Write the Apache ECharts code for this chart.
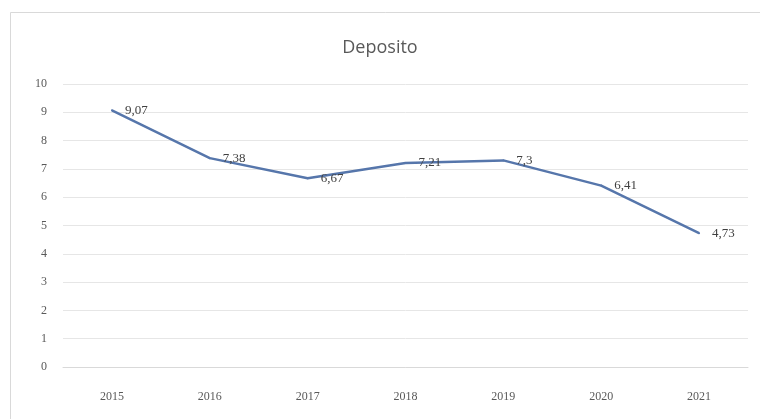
<!DOCTYPE html>
<html>
<head>
<meta charset="utf-8">
<script src="https://cdn.jsdelivr.net/npm/echarts@6/dist/echarts.min.js"></script>
<style>
html,body{margin:0;padding:0;background:#fff;}
#main{width:760px;height:419px;}
</style>
</head>
<body>
<div id="main"></div>
<script>
var years = ['2015','2016','2017','2018','2019','2020','2021'];
var deposito = [9.07, 7.38, 6.67, 7.21, 7.3, 6.41, 4.73];
var titleText = 'Deposito';

var myChart = echarts.init(document.getElementById('main'));
var option = {
	backgroundColor: '#fff',
	animation: false,
	title: {
		text: titleText,
		left: 'center',
		top: 34,
		textStyle: {color: '#595959', fontSize: 18, fontWeight: 'normal', fontFamily: 'Open Sans'}
	},
	graphic: [{
		type: 'rect',
		shape: {x: 10.5, y: 12.5, width: 760, height: 420},
		style: {fill: 'none', stroke: '#d9d9d9', lineWidth: 1}
	}],
	grid: {left: 63, right: 12, top: 84, bottom: 52},
	xAxis: {
		type: 'category',
		data: years,
		boundaryGap: true,
		axisLine: {lineStyle: {color: '#d9d9d9'}},
		axisTick: {show: false},
		axisLabel: {color: '#595959', fontSize: 12, fontFamily: 'Liberation Serif', margin: 24}
	},
	yAxis: {
		type: 'value',
		min: 0,
		max: 10,
		interval: 1,
		axisLine: {show: false},
		axisTick: {show: false},
		axisLabel: {color: '#595959', fontSize: 12, fontFamily: 'Liberation Serif', margin: 16},
		splitLine: {lineStyle: {color: '#e6e6e6'}}
	},
	series: [{
		type: 'line',
		data: deposito,
		symbol: 'circle',
		symbolSize: 2,
		showSymbol: true,
		showAllSymbol: true,
		itemStyle: {color: '#5676ab', borderWidth: 0},
		lineStyle: {color: '#5676ab', width: 2.5},
		labelLayout: {hideOverlap: false},
		label: {
			show: true,
			position: 'right',
			distance: 12,
			color: '#404040',
			fontSize: 13,
			fontFamily: 'Liberation Serif',
			formatter: function(p){ return String(p.value).replace('.', ','); }
		}
	}]
};
myChart.setOption(option);
</script>
</body>
</html>
